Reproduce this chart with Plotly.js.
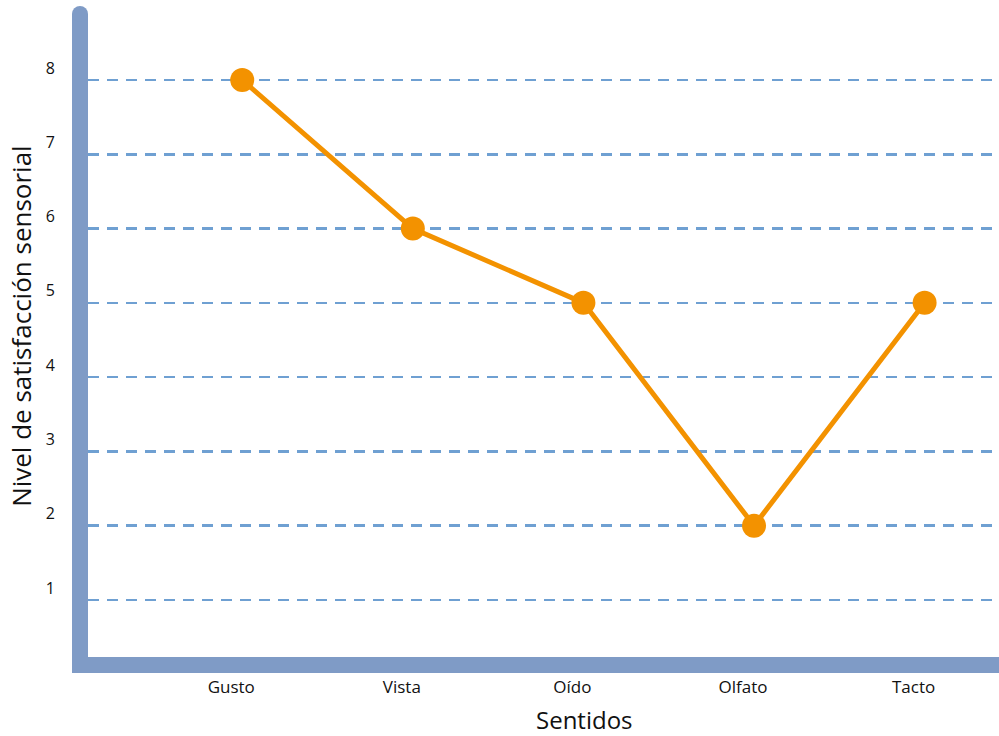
<!DOCTYPE html>
<html>
<head>
<meta charset="utf-8">
<script src="https://cdn.plot.ly/plotly-3.0.1.min.js"></script>
<style>html,body{margin:0;padding:0;background:#fff;}#chart{width:999px;height:736px;}</style>
</head>
<body>
<div id="chart"></div>
<script>
const categories = ["Gusto", "Vista", "Oído", "Olfato", "Tacto"];
const satisfaction = [8, 6, 5, 2, 5];
const yTickValues = [1, 2, 3, 4, 5, 6, 7, 8];
const xTitle = "Sentidos";
const yTitle = "Nivel de satisfacción sensorial";

const FONT = "'Open Sans', 'Noto Sans', sans-serif";
const AXIS_COLOR = "#7f9bc6";
const ORANGE = "#f39200";

const trace = {
  type: "scatter",
  mode: "lines+markers",
  x: categories,
  y: satisfaction,
  line: {color: ORANGE, width: 5},
  marker: {color: ORANGE, size: 24},
  cliponaxis: false,
  hoverinfo: "x+y"
};

const layout = {
  width: 999,
  height: 736,
  margin: {l: 88, r: 0, t: 14, b: 79},
  paper_bgcolor: "#ffffff",
  plot_bgcolor: "#ffffff",
  showlegend: false,
  font: {family: FONT, color: "#111111"},
  xaxis: {
    type: "category",
    range: [-0.904, 4.436],
    showline: true,
    linecolor: AXIS_COLOR,
    linewidth: 16,
    showgrid: false,
    zeroline: false,
    ticks: "",
    ticklabelshift: -11,
    ticklabelstandoff: 0,
    tickfont: {family: FONT, size: 17, color: "#111111"},
    fixedrange: true
  },
  yaxis: {
    range: [0.233, 8.888],
    tickvals: yTickValues,
    ticktext: yTickValues.map(String),
    showline: true,
    linecolor: AXIS_COLOR,
    linewidth: 16,
    showgrid: true,
    gridcolor: "#6fa0d2",
    gridwidth: 2.5,
    griddash: "11px,8px",
    zeroline: false,
    ticks: "",
    ticklabelshift: -12,
    ticklabelstandoff: 14,
    tickfont: {family: FONT, size: 16, color: "#111111"},
    fixedrange: true
  },
  annotations: [
    {text: xTitle, xref: "paper", yref: "paper", x: 0.545, y: 0, yshift: -62,
     xanchor: "center", yanchor: "middle", showarrow: false,
     font: {family: FONT, size: 24, color: "#111111"}},
    {text: yTitle, xref: "paper", yref: "paper", x: 0, xshift: -67, y: 0.515,
     xanchor: "center", yanchor: "middle", textangle: -90, showarrow: false,
     font: {family: FONT, size: 26, color: "#111111"}}
  ],
  shapes: [
    {type: "circle", xref: "paper", yref: "paper", xsizemode: "pixel", ysizemode: "pixel",
     xanchor: 0, yanchor: 1, x0: -16, x1: 0, y0: -8, y1: 8,
     fillcolor: AXIS_COLOR, line: {width: 0}, layer: "above"}
  ]
};

Plotly.newPlot("chart", [trace], layout, {displayModeBar: false, staticPlot: true});
</script>
</body>
</html>
